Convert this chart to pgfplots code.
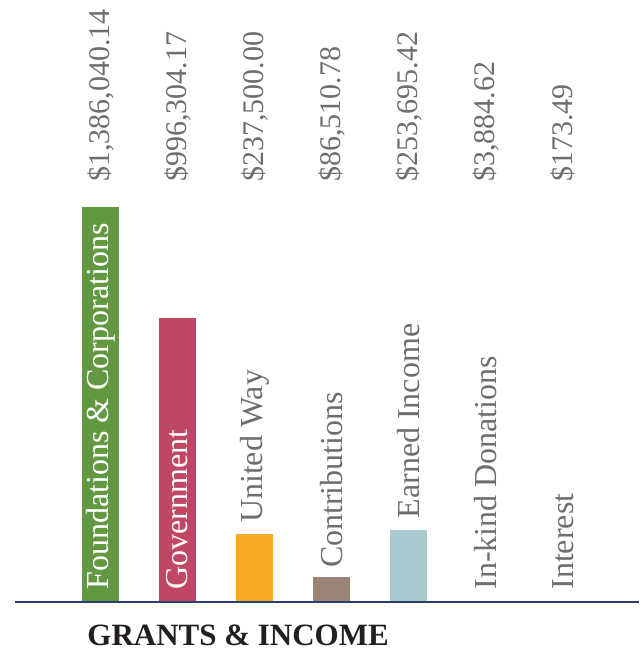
\documentclass[border=0pt]{standalone}
\usepackage{fontspec}
\setmainfont{Liberation Serif}
\usepackage{pgfplots}
\pgfplotsset{compat=1.18}
\definecolor{cgreen}{RGB}{98,152,66}
\definecolor{ccrim}{RGB}{192,71,99}
\definecolor{corange}{RGB}{247,169,40}
\definecolor{ctaupe}{RGB}{154,132,120}
\definecolor{cblue}{RGB}{168,201,205}
\definecolor{cgrey}{RGB}{200,200,200}
\definecolor{cnavy}{RGB}{44,62,110}
\definecolor{ctext}{RGB}{109,110,113}
\definecolor{ctitle}{RGB}{35,31,32}
\begin{document}
\begin{tikzpicture}
\begin{axis}[
  scale only axis,
  width=312pt, height=301pt,
  xmin=-1.11, xmax=6.99,
  ymin=0, ymax=2112440,
  enlargelimits=false,
  axis x line=bottom, axis y line=none,
  axis line style={-, draw=cnavy, line width=0.75pt},
  xtick=\empty, ytick=\empty,
  axis on top,
  clip=false,
  every node/.style={inner sep=0pt},
]
\addplot[ybar, bar width=18.5pt, bar shift=0pt, fill=cgreen, draw=none] coordinates {(0,1386040.14)};
\addplot[ybar, bar width=18.5pt, bar shift=0pt, fill=ccrim, draw=none] coordinates {(1,996304.17)};
\addplot[ybar, bar width=18.5pt, bar shift=0pt, fill=corange, draw=none] coordinates {(2,237500.00)};
\addplot[ybar, bar width=18.5pt, bar shift=0pt, fill=ctaupe, draw=none] coordinates {(3,86510.78)};
\addplot[ybar, bar width=18.5pt, bar shift=0pt, fill=cblue, draw=none] coordinates {(4,253695.42)};
\addplot[ybar, bar width=18.5pt, bar shift=0pt, fill=cgrey, draw=none] coordinates {(5,3884.62)};
\addplot[ybar, bar width=18.5pt, bar shift=0pt, fill=cgrey, draw=none] coordinates {(6,173.49)};

% value labels
\begin{scope}[every node/.style={rotate=90, anchor=west, inner sep=0pt, text=ctext, font=\fontsize{15}{17}\selectfont}]
\node at ([yshift=210pt]axis cs:0,0) {\$1,386,040.14};
\node at ([yshift=210pt]axis cs:1,0) {\$996,304.17};
\node at ([yshift=210pt]axis cs:2,0) {\$237,500.00};
\node at ([yshift=210pt]axis cs:3,0) {\$86,510.78};
\node at ([yshift=210pt]axis cs:4,0) {\$253,695.42};
\node at ([yshift=210pt]axis cs:5,0) {\$3,884.62};
\node at ([yshift=210pt]axis cs:6,0) {\$173.49};
\end{scope}

% category labels
\begin{scope}[every node/.style={rotate=90, anchor=west, inner sep=0pt, font=\fontsize{16}{18}\selectfont}]
\node[text=white] at ([yshift=6pt]axis cs:0,0) {Foundations \& Corporations};
\node[text=white] at ([yshift=6pt]axis cs:1,0) {Government};
\node[text=ctext] at ([yshift=5.5pt]axis cs:2,237500.00) {United Way};
\node[text=ctext] at ([yshift=4.5pt]axis cs:3,86510.78) {Contributions};
\node[text=ctext] at ([yshift=5.5pt]axis cs:4,253695.42) {Earned Income};
\node[text=ctext] at ([yshift=5.5pt]axis cs:5,3884.62) {In-kind Donations};
\node[text=ctext] at ([yshift=6pt]axis cs:6,0) {Interest};
\end{scope}

% title
\node[anchor=base west, inner sep=0pt, text=ctitle, font=\bfseries\fontsize{15.5}{18}\selectfont]
  at ([xshift=36pt,yshift=-21.5pt]rel axis cs:0,0) {GRANTS \& INCOME};

% canvas
\path ([xshift=-7.5pt,yshift=-24.5pt]rel axis cs:0,0) rectangle ([xshift=2.5pt]rel axis cs:1,1);
\end{axis}
\end{tikzpicture}
\end{document}
